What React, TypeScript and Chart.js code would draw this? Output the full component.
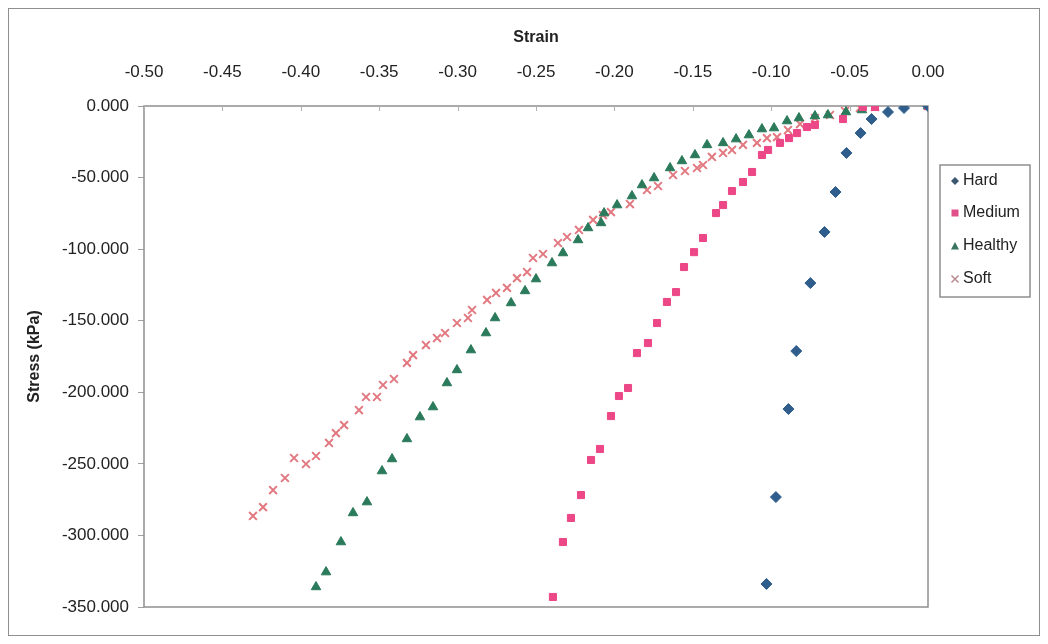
import React, { useEffect, useRef } from "react";
import { Chart, registerables } from "chart.js";

Chart.register(...registerables);

const xTickLabels = ["-0.50", "-0.45", "-0.40", "-0.35", "-0.30", "-0.25", "-0.20", "-0.15", "-0.10", "-0.05", "0.00"];

const hardStrain = [0, -0.0153, -0.0255, -0.036, -0.043, -0.052, -0.059, -0.066, -0.075, -0.084, -0.089, -0.097, -0.103];
const hardStress = [0, -1.4, -4.2, -9.1, -18.9, -32.8, -60.1, -88.0, -123.7, -171.2, -211.7, -273.2, -333.9];

const mediumStrain = [0, -0.0338, -0.0415, -0.0542, -0.0721, -0.0772, -0.0835, -0.0886, -0.0944, -0.102, -0.1059, -0.1122, -0.118, -0.125, -0.1307, -0.1352, -0.1435, -0.1492, -0.1556, -0.1607, -0.1665, -0.1728, -0.1786, -0.1856, -0.1913, -0.1971, -0.2022, -0.2092, -0.2149, -0.2213, -0.2277, -0.2328, -0.2392];
const mediumStress = [0, -0.7, -0.7, -9.1, -13.3, -14.7, -18.9, -22.4, -25.8, -30.7, -34.2, -46.1, -53.1, -59.4, -69.2, -74.8, -92.2, -102.1, -112.5, -130.0, -136.9, -151.6, -165.6, -172.6, -197.0, -202.6, -216.6, -239.6, -247.3, -271.8, -287.8, -304.6, -343.0];

const healthyStrain = [0, -0.0421, -0.0523, -0.0638, -0.0721, -0.0823, -0.0899, -0.0982, -0.1059, -0.1142, -0.1224, -0.1307, -0.1409, -0.1486, -0.1569, -0.1645, -0.1747, -0.1824, -0.1888, -0.1983, -0.2066, -0.2085, -0.2168, -0.2232, -0.2328, -0.2398, -0.25, -0.257, -0.2659, -0.2761, -0.2819, -0.2915, -0.3004, -0.3068, -0.3157, -0.324, -0.3323, -0.3418, -0.3482, -0.3578, -0.3667, -0.3744, -0.3839, -0.3903];
const healthyStress = [0, -2.8, -4.2, -6.3, -7.0, -8.4, -10.5, -15.4, -16.1, -20.3, -23.1, -25.8, -27.2, -34.2, -38.4, -43.3, -50.3, -55.2, -62.9, -69.2, -74.8, -81.7, -85.2, -93.6, -102.7, -109.7, -120.9, -129.2, -137.6, -148.1, -158.6, -170.5, -184.4, -193.5, -210.3, -217.3, -232.6, -246.6, -255.0, -276.7, -284.3, -304.6, -325.6, -336.0];

const softStrain = [0, -0.0338, -0.0434, -0.0529, -0.0625, -0.0721, -0.0816, -0.0893, -0.0963, -0.1027, -0.1091, -0.118, -0.125, -0.1307, -0.1378, -0.1435, -0.1473, -0.155, -0.1626, -0.1722, -0.1792, -0.1901, -0.2022, -0.2073, -0.2136, -0.2226, -0.2302, -0.236, -0.2455, -0.2519, -0.2557, -0.2621, -0.2685, -0.2755, -0.2812, -0.2908, -0.2934, -0.3004, -0.308, -0.3131, -0.3202, -0.3284, -0.3323, -0.3406, -0.3476, -0.3514, -0.3584, -0.3629, -0.3724, -0.3776, -0.382, -0.3903, -0.3967, -0.4043, -0.4101, -0.4177, -0.4241, -0.4305];
const softStress = [0, -0.7, -1.4, -3.5, -6.3, -8.4, -12.6, -16.8, -21.7, -22.4, -25.8, -27.2, -30.7, -32.8, -35.6, -41.2, -43.3, -45.4, -48.2, -55.9, -58.7, -68.5, -74.1, -76.2, -79.6, -86.6, -91.5, -95.7, -103.4, -106.2, -116.0, -120.2, -127.1, -130.6, -135.5, -142.5, -148.1, -151.6, -158.6, -162.1, -167.0, -174.0, -179.5, -190.7, -194.9, -203.3, -203.3, -212.4, -222.9, -228.5, -235.4, -244.5, -250.1, -245.9, -259.9, -268.3, -280.2, -286.4];

const seriesNames = ["Hard", "Medium", "Healthy", "Soft"];

const zip = (xs: number[], ys: number[]) => xs.map((x, i) => ({ x, y: ys[i] }));

const FONT = "'Liberation Sans', Arial, sans-serif";

const legendColors = ["#3b5870", "#e0508a", "#3a7462", "#b98a90"];

const framePlugin = {
  id: "frame",
  beforeDatasetsDraw(chart: any) {
    const { ctx, chartArea: a, scales } = chart;
    ctx.save();
    ctx.strokeStyle = "#8f8f8f";
    ctx.lineWidth = 1.5;
    ctx.strokeRect(a.left, a.top, a.right - a.left, a.bottom - a.top);
    const xs = scales.x;
    ctx.lineWidth = 1;
    ctx.strokeStyle = "#b0b0b0";
    xs.ticks.forEach((_t: any, i: number) => {
      const px = Math.round(xs.getPixelForTick(i)) + 0.5;
      ctx.beginPath();
      ctx.moveTo(px, a.top);
      ctx.lineTo(px, a.top + 5);
      ctx.stroke();
    });
    ctx.restore();
  },
  afterDraw(chart: any) {
    const { ctx } = chart;
    ctx.save();
    const bx = 931, by = 156, bw = 90, bh = 132;
    ctx.strokeStyle = "#8f8f8f";
    ctx.lineWidth = 1.5;
    ctx.strokeRect(bx, by, bw, bh);
    ctx.font = `16px ${FONT}`;
    ctx.textBaseline = "middle";
    ctx.textAlign = "left";
    const ys = [172, 204, 237, 270];
    seriesNames.forEach((name, i) => {
      const cx = 946, cy = ys[i];
      const c = legendColors[i];
      ctx.fillStyle = c;
      ctx.strokeStyle = c;
      ctx.beginPath();
      if (i === 0) {
        ctx.moveTo(cx, cy - 4); ctx.lineTo(cx + 4, cy); ctx.lineTo(cx, cy + 4); ctx.lineTo(cx - 4, cy);
        ctx.closePath(); ctx.fill();
      } else if (i === 1) {
        ctx.rect(cx - 3.5, cy - 3.5, 7, 7); ctx.fill();
      } else if (i === 2) {
        ctx.moveTo(cx, cy - 4); ctx.lineTo(cx + 4, cy + 3.5); ctx.lineTo(cx - 4, cy + 3.5);
        ctx.closePath(); ctx.fill();
      } else {
        ctx.lineWidth = 1.5;
        ctx.moveTo(cx - 3.5, cy - 3.5); ctx.lineTo(cx + 3.5, cy + 3.5);
        ctx.moveTo(cx + 3.5, cy - 3.5); ctx.lineTo(cx - 3.5, cy + 3.5);
        ctx.stroke();
      }
      ctx.fillStyle = "#222";
      ctx.fillText(name, 954, cy);
    });
    ctx.restore();
  },
};

export default function App() {
  const ref = useRef<HTMLCanvasElement | null>(null);
  useEffect(() => {
    if (!ref.current) return;
    const chart = new Chart(ref.current, {
      type: "scatter",
      data: {
        datasets: [
          {
            label: seriesNames[0],
            data: zip(hardStrain, hardStress),
            pointStyle: "rectRot",
            pointRadius: 5.5,
            backgroundColor: "#2f5e8c",
            borderColor: "#2f5e8c",
            borderWidth: 1,
          },
          {
            label: seriesNames[1],
            data: zip(mediumStrain, mediumStress),
            pointStyle: "rect",
            pointRadius: 5,
            backgroundColor: "#ec4787",
            borderColor: "#ec4787",
            borderWidth: 1,
          },
          {
            label: seriesNames[2],
            data: zip(healthyStrain, healthyStress),
            pointStyle: "triangle",
            pointRadius: 5.5,
            backgroundColor: "#2b7a5b",
            borderColor: "#2b7a5b",
            borderWidth: 1,
          },
          {
            label: seriesNames[3],
            data: zip(softStrain, softStress),
            pointStyle: "crossRot",
            pointRadius: 5.5,
            backgroundColor: "#e27880",
            borderColor: "#e27880",
            borderWidth: 2,
          },
        ],
      },
      options: {
        responsive: false,
        animation: false,
        layout: { padding: { left: 0, top: 0, right: 111, bottom: 28 } },
        plugins: { legend: { display: false }, tooltip: { enabled: false } },
        scales: {
          x: {
            type: "linear",
            position: "top",
            min: -0.5,
            max: 0,
            afterBuildTicks: (axis: any) => {
              axis.ticks = xTickLabels.map((l) => ({ value: parseFloat(l) }));
            },
            ticks: {
              callback: (v: any) => Number(v).toFixed(2),
              font: { family: FONT, size: 17 },
              color: "#222",
              padding: 23,
              maxRotation: 0,
            },
            grid: { display: false, drawTicks: false },
            border: { display: false },
            title: {
              display: true,
              text: "Strain",
              font: { family: FONT, size: 16, weight: "bold" },
              color: "#222",
              padding: { top: 19, bottom: 0 },
            },
            afterFit: (axis: any) => {
              axis.height = 97;
            },
          },
          y: {
            type: "linear",
            min: -350,
            max: 0,
            ticks: {
              stepSize: 50,
              callback: (v: any) => Number(v).toFixed(3),
              font: { family: FONT, size: 17 },
              color: "#222",
              padding: 9,
            },
            grid: { display: true, drawOnChartArea: false, drawTicks: true, tickLength: 6, color: "#a0a0a0" },
            border: { display: false },
            title: {
              display: true,
              text: "Stress (kPa)",
              font: { family: FONT, size: 16, weight: "bold" },
              color: "#222",
              padding: { top: 16, bottom: 0 },
            },
            afterFit: (axis: any) => {
              axis.width = 135;
            },
          },
        },
      },
      plugins: [framePlugin],
    } as any);
    return () => chart.destroy();
  }, []);
  return (
    <div style={{ width: 1032, height: 628, border: "1px solid #8f8f8f", boxSizing: "border-box" }}>
      <canvas ref={ref} width={1030} height={626} style={{ display: "block" }} />
    </div>
  );
}
